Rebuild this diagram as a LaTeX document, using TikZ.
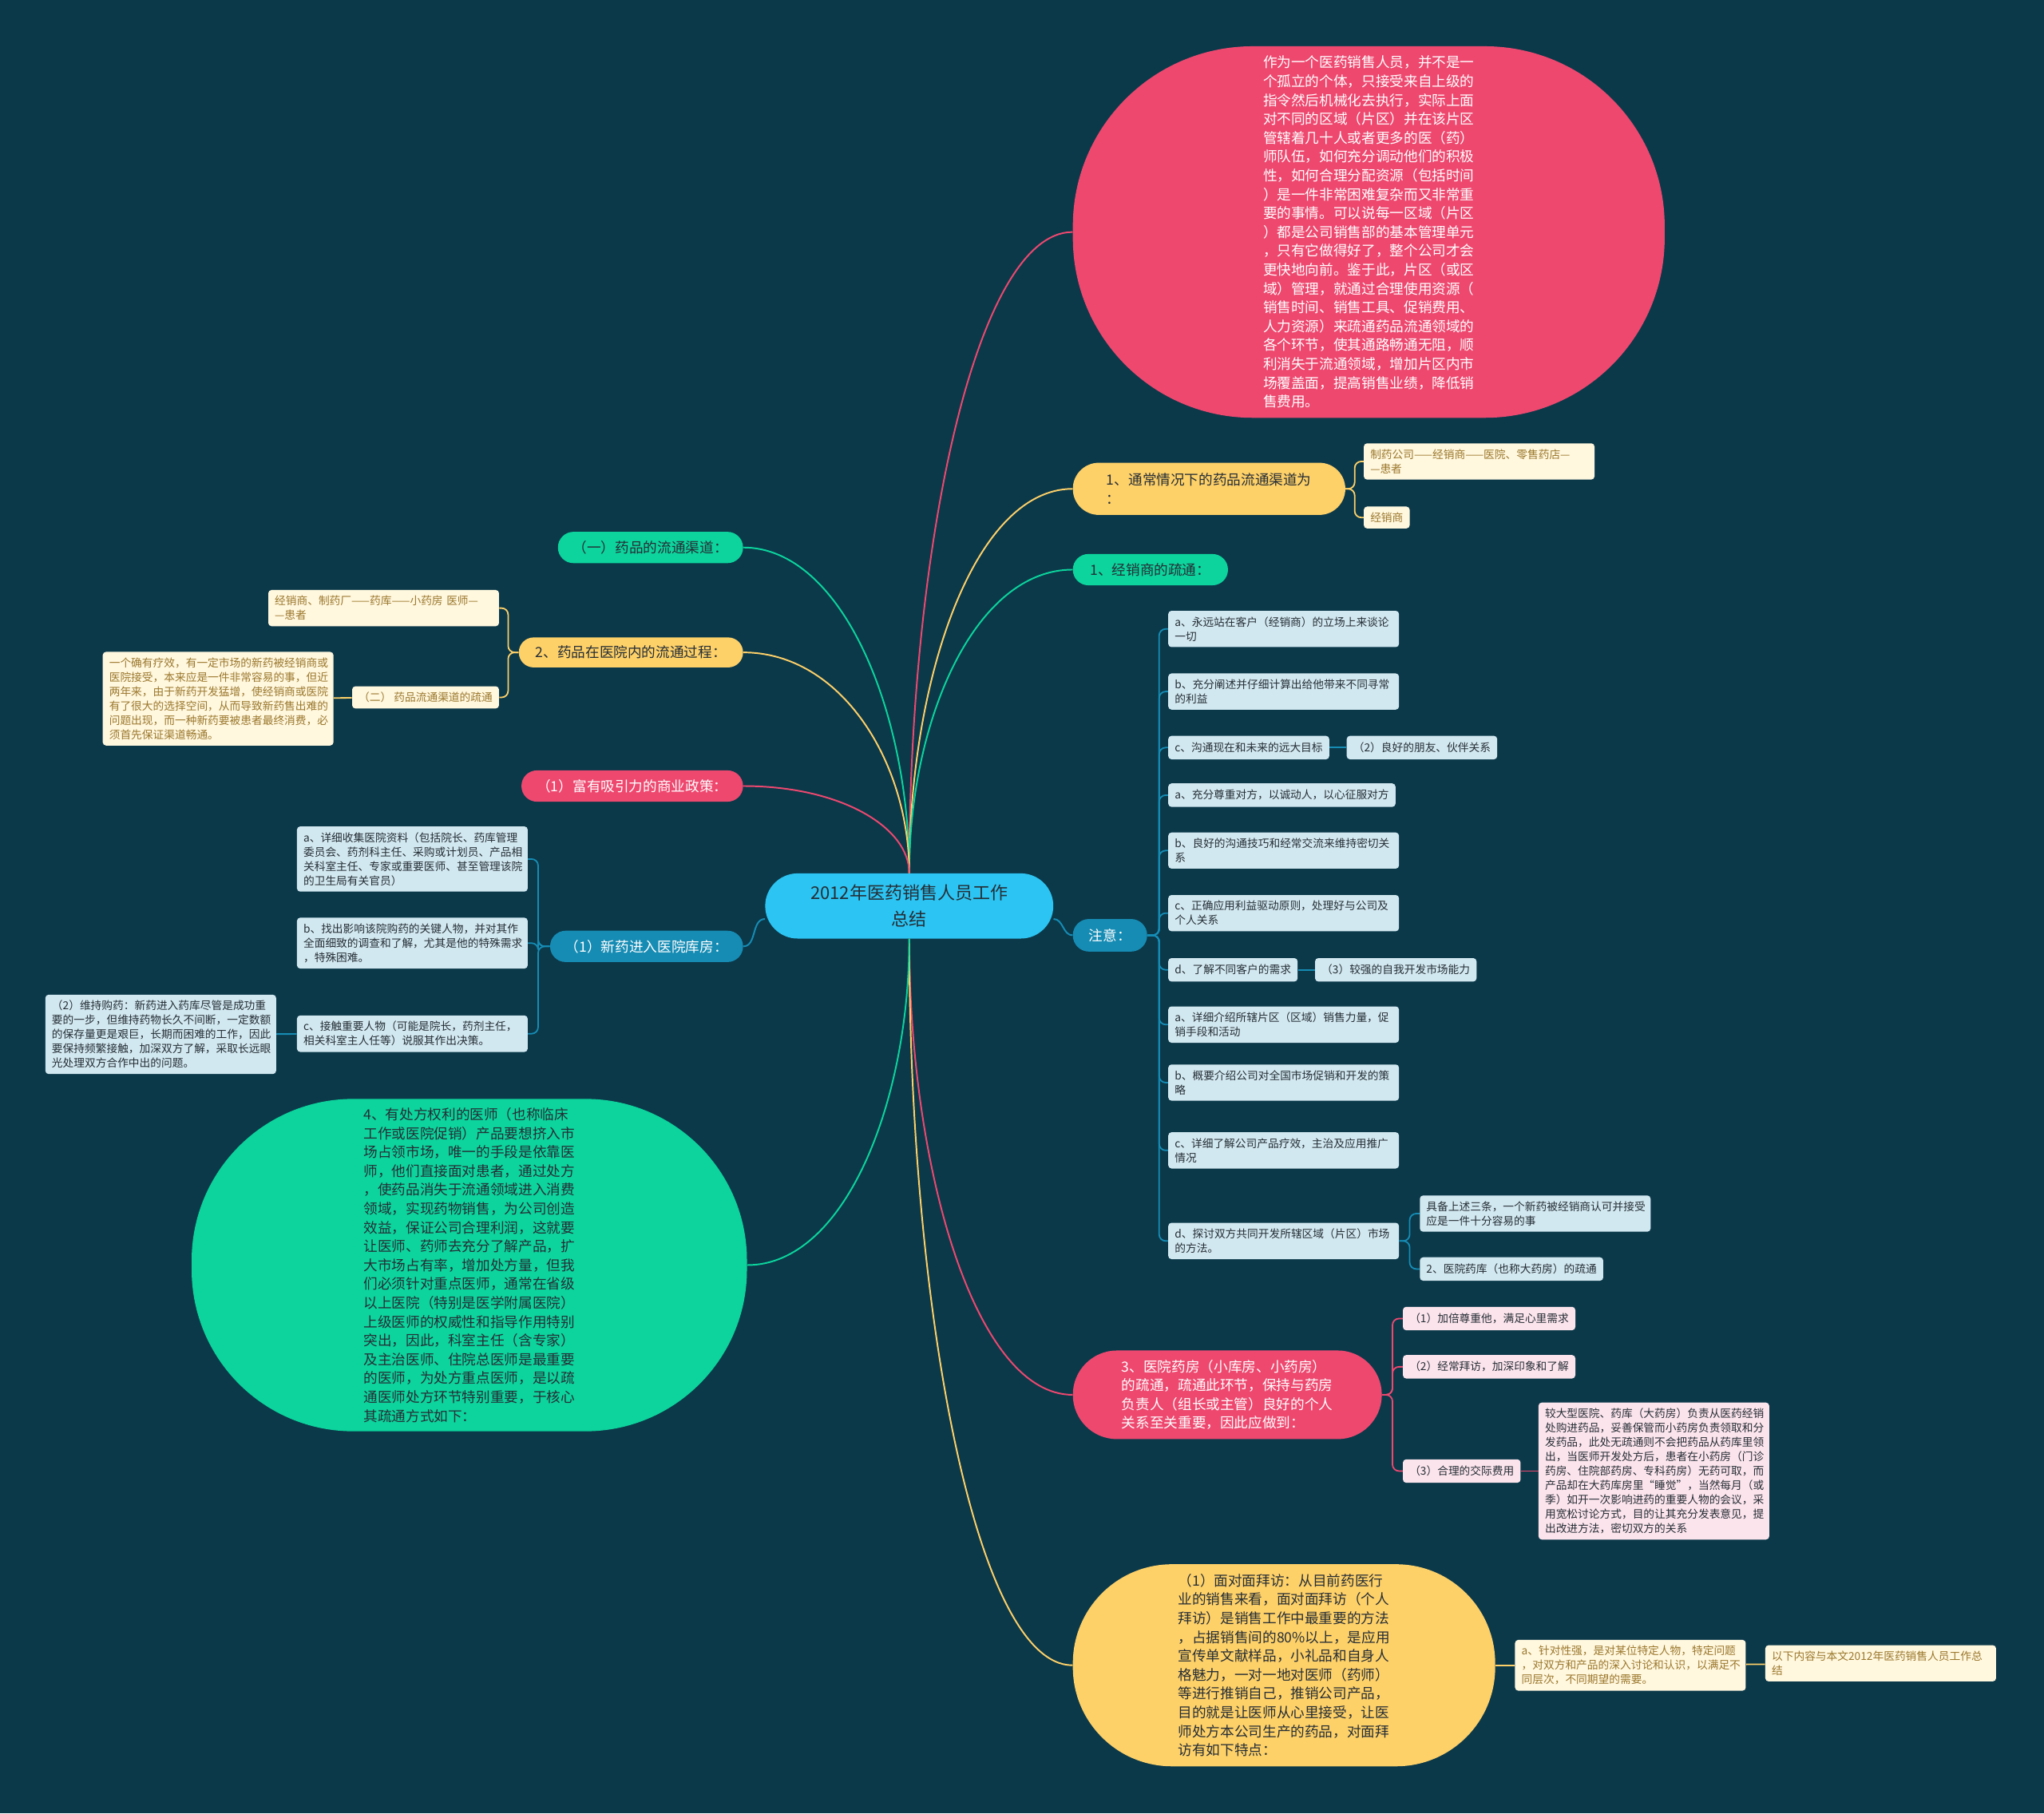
\documentclass[tikz,border=0pt]{standalone}
\usepackage{fontspec}
\setmainfont{Noto Sans CJK SC}
\usetikzlibrary{positioning}
\definecolor{mapBg}{RGB}{11,57,74}
\definecolor{mapCyan}{RGB}{44,196,242}
\definecolor{mapRed}{RGB}{238,72,111}
\definecolor{mapYellow}{RGB}{253,208,104}
\definecolor{mapGreen}{RGB}{12,212,156}
\definecolor{mapBlue}{RGB}{22,140,180}
\definecolor{mapCream}{RGB}{255,247,222}
\definecolor{mapBrown}{RGB}{155,120,45}
\definecolor{mapIce}{RGB}{210,232,240}
\definecolor{mapPink}{RGB}{252,228,236}
\definecolor{mapInk}{RGB}{38,46,54}
\newcommand\rootsize{\fontsize{13.5pt}{20pt}\selectfont}
\newcommand\mainsize{\fontsize{10.8pt}{14.45pt}\selectfont}
\newcommand\leafsize{\fontsize{8.4pt}{11pt}\selectfont}

\begin{document}
\begin{tikzpicture}[
    x=1pt, y=-1pt,
    pill/.style={rounded corners=11.9pt, minimum height=24pt, align=left, font=\mainsize, inner sep=0pt},
    blob/.style={align=left, font=\mainsize, inner sep=0pt},
    leaf/.style={rounded corners=2.5pt, inner xsep=5pt, inner ysep=4.5pt, align=left, font=\leafsize, minimum height=18pt},
    iceleaf/.style={leaf, fill=mapIce, text=mapInk},
    creamleaf/.style={leaf, fill=mapCream, text=mapBrown},
    pinkleaf/.style={leaf, fill=mapPink, text=mapInk},
    wide/.style={text width=167pt},
    link/.style={line width=1.2pt},
    twig/.style={line width=1.1pt, rounded corners=5pt}
]
    \fill[mapBg] (0,0) rectangle (1568,1391);
    \useasboundingbox (0,0) rectangle (1568,1391);

    % root
    \node[pill, fill=mapCyan, text=mapInk, font=\rootsize, align=center, minimum width=221pt, minimum height=50pt, rounded corners=24.9pt] (root) at (697.5,695) {2012年医药销售人员工作\\总结};

    % right side
    \node[blob, fill=mapRed, text=white, minimum width=454pt, minimum height=285pt, rounded corners=138pt] (region) at (1050,178) {作为一个医药销售人员，并不是一\\个孤立的个体，只接受来自上级的\\指令然后机械化去执行，实际上面\\对不同的区域（片区）并在该片区\\管辖着几十人或者更多的医（药）\\师队伍，如何充分调动他们的积极\\性，如何合理分配资源（包括时间\\）是一件非常困难复杂而又非常重\\要的事情。可以说每一区域（片区\\）都是公司销售部的基本管理单元\\，只有它做得好了，整个公司才会\\更快地向前。鉴于此，片区（或区\\域）管理，就通过合理使用资源（\\销售时间、销售工具、促销费用、\\人力资源）来疏通药品流通领域的\\各个环节，使其通路畅通无阻，顺\\利消失于流通领域，增加片区内市\\场覆盖面，提高销售业绩，降低销\\售费用。};
    \node[pill, fill=mapYellow, text=mapInk, minimum width=209pt, minimum height=40pt, rounded corners=19.9pt] (channel) at (927.5,375) {1、通常情况下的药品流通渠道为\\：};
    \node[creamleaf, wide, anchor=west] (chainA) at (1046,354) {制药公司——经销商——医院、零售药店—\\—患者};
    \node[creamleaf, anchor=west, minimum height=16pt] (chainB) at (1046,397) {经销商};
    \node[pill, fill=mapGreen, text=mapInk, minimum width=119pt] (dealer) at (882.5,437) {1、经销商的疏通：};

    \node[pill, fill=mapBlue, text=white, minimum width=57pt, minimum height=25pt, rounded corners=12.4pt] (note) at (851.5,717.5) {注意：};
    \node[iceleaf, wide, anchor=west] (noteA) at (896,482.5) {a、永远站在客户（经销商）的立场上来谈论\\一切};
    \node[iceleaf, wide, anchor=west] (noteB) at (896,530.5) {b、充分阐述并仔细计算出给他带来不同寻常\\的利益};
    \node[iceleaf, anchor=west] (noteC) at (896,573.5) {c、沟通现在和未来的远大目标};
    \node[iceleaf, right=13pt of noteC] (friend) {（2）良好的朋友、伙伴关系};
    \node[iceleaf, anchor=west] (noteD) at (896,610) {a、充分尊重对方，以诚动人，以心征服对方};
    \node[iceleaf, wide, anchor=west] (noteE) at (896,652.5) {b、良好的沟通技巧和经常交流来维持密切关\\系};
    \node[iceleaf, wide, anchor=west] (noteF) at (896,700.5) {c、正确应用利益驱动原则，处理好与公司及\\个人关系};
    \node[iceleaf, anchor=west] (noteG) at (896,744) {d、了解不同客户的需求};
    \node[iceleaf, right=13pt of noteG] (selfdev) {（3）较强的自我开发市场能力};
    \node[iceleaf, wide, anchor=west] (noteH) at (896,786) {a、详细介绍所辖片区（区域）销售力量，促\\销手段和活动};
    \node[iceleaf, wide, anchor=west] (noteI) at (896,830.5) {b、概要介绍公司对全国市场促销和开发的策\\略};
    \node[iceleaf, wide, anchor=west] (noteJ) at (896,882.5) {c、详细了解公司产品疗效，主治及应用推广\\情况};
    \node[iceleaf, wide, anchor=west] (noteK) at (896,952) {d、探讨双方共同开发所辖区域（片区）市场\\的方法。};
    \node[iceleaf, wide, anchor=west] (easy) at (1089,931) {具备上述三条，一个新药被经销商认可并接受\\应是一件十分容易的事};
    \node[iceleaf, anchor=west] (bigstore) at (1089,973.5) {2、医院药库（也称大药房）的疏通};

    \node[pill, fill=mapRed, text=white, minimum width=237pt, minimum height=68pt, rounded corners=33.9pt] (pharmacy) at (941.5,1070) {3、医院药房（小库房、小药房）\\的疏通，疏通此环节，保持与药房\\负责人（组长或主管）良好的个人\\关系至关重要，因此应做到：};
    \node[pinkleaf, anchor=west] (respect) at (1076,1011.5) {（1）加倍尊重他，满足心里需求};
    \node[pinkleaf, anchor=west] (often) at (1076,1048.5) {（2）经常拜访，加深印象和了解};
    \node[pinkleaf, anchor=west] (cost) at (1076,1128.5) {（3）合理的交际费用};
    \node[pinkleaf, wide, anchor=west] (costText) at (1180,1128.5) {较大型医院、药库（大药房）负责从医药经销\\处购进药品，妥善保管而小药房负责领取和分\\发药品，此处无疏通则不会把药品从药库里领\\出，当医师开发处方后，患者在小药房（门诊\\药房、住院部药房、专科药房）无药可取，而\\产品却在大药库房里“睡觉”，当然每月（或\\季）如开一次影响进药的重要人物的会议，采\\用宽松讨论方式，目的让其充分发表意见，提\\出改进方法，密切双方的关系};

    \node[blob, fill=mapYellow, text=mapInk, minimum width=324pt, minimum height=155pt, rounded corners=76pt] (visit) at (985,1277.5) {（1）面对面拜访：从目前药医行\\业的销售来看，面对面拜访（个人\\拜访）是销售工作中最重要的方法\\，占据销售间的80\%以上，是应用\\宣传单文献样品，小礼品和自身人\\格魅力，一对一地对医师（药师）\\等进行推销自己，推销公司产品，\\目的就是让医师从心里接受，让医\\师处方本公司生产的药品，对面拜\\访有如下特点：};
    \node[creamleaf, wide, anchor=west] (aspect) at (1162,1277.5) {a、针对性强，是对某位特定人物，特定问题\\，对双方和产品的深入讨论和认识，以满足不\\同层次，不同期望的需要。};
    \node[creamleaf, wide, anchor=west] (tail) at (1354,1276) {以下内容与本文2012年医药销售人员工作总\\结};

    % left side
    \node[pill, fill=mapGreen, text=mapInk, minimum width=142pt] (flow) at (499,420) {（一）药品的流通渠道：};
    \node[pill, fill=mapYellow, text=mapInk, minimum width=172pt, minimum height=23pt, rounded corners=11.4pt] (inside) at (484,500.5) {2、药品在医院内的流通过程：};
    \node[creamleaf, wide, anchor=east] (route) at (383,466.5) {经销商、制药厂——药库——小药房 医师—\\—患者};
    \node[creamleaf, anchor=east, minimum height=16pt] (clear) at (383,535) {（二） 药品流通渠道的疏通};
    \node[creamleaf, wide, anchor=east] (clearText) at (256,536) {一个确有疗效，有一定市场的新药被经销商或\\医院接受，本来应是一件非常容易的事，但近\\两年来，由于新药开发猛增，使经销商或医院\\有了很大的选择空间，从而导致新药售出难的\\问题出现，而一种新药要被患者最终消费，必\\须首先保证渠道畅通。};
    \node[pill, fill=mapRed, text=white, minimum width=170pt] (policy) at (485,603) {（1）富有吸引力的商业政策：};

    \node[pill, fill=mapBlue, text=white, minimum width=148pt] (stock) at (496,726) {（1）新药进入医院库房：};
    \node[iceleaf, wide, anchor=east] (stockA) at (405,659) {a、详细收集医院资料（包括院长、药库管理\\委员会、药剂科主任、采购或计划员、产品相\\关科室主任、专家或重要医师、甚至管理该院\\的卫生局有关官员）};
    \node[iceleaf, wide, anchor=east] (stockB) at (405,723.5) {b、找出影响该院购药的关键人物，并对其作\\全面细致的调查和了解，尤其是他的特殊需求\\，特殊困难。};
    \node[iceleaf, wide, anchor=east] (stockC) at (405,793) {c、接触重要人物（可能是院长，药剂主任，\\相关科室主人任等）说服其作出决策。};
    \node[iceleaf, wide, anchor=east] (keep) at (212,793.5) {（2）维持购药：新药进入药库尽管是成功重\\要的一步，但维持药物长久不间断，一定数额\\的保存量更是艰巨，长期而困难的工作，因此\\要保持频繁接触，加深双方了解，采取长远眼\\光处理双方合作中出的问题。};

    \node[blob, fill=mapGreen, text=mapInk, minimum width=426pt, minimum height=255pt, rounded corners=124pt] (doctor) at (360,970.5) {4、有处方权利的医师（也称临床\\工作或医院促销）产品要想挤入市\\场占领市场，唯一的手段是依靠医\\师，他们直接面对患者，通过处方\\，使药品消失于流通领域进入消费\\领域，实现药物销售，为公司创造\\效益，保证公司合理利润，这就要\\让医师、药师去充分了解产品，扩\\大市场占有率，增加处方量，但我\\们必须针对重点医师，通常在省级\\以上医院（特别是医学附属医院）\\上级医师的权威性和指导作用特别\\突出，因此，科室主任（含专家）\\及主治医师、住院总医师是最重要\\的医师，为处方重点医师，是以疏\\通医师处方环节特别重要，于核心\\其疏通方式如下：};

    % branches from the root
    \draw[link, mapRed] (root.north) to[out=90, in=180, out distance=246pt, in distance=75pt] (region.west);
    \draw[link, mapYellow] (root.north) to[out=90, in=180, out distance=150pt, in distance=75pt] (channel.west);
    \draw[link, mapGreen] (root.north) to[out=90, in=180, out distance=117pt, in distance=75pt] (dealer.west);
    \draw[link, mapBlue] ([yshift=-10pt]root.east) to[out=0, in=180] (note.west);
    \draw[link, mapRed] (root.south) to[out=-90, in=180, out distance=175pt, in distance=75pt] (pharmacy.west);
    \draw[link, mapYellow] (root.south) to[out=-90, in=180, out distance=280pt, in distance=75pt] (visit.west);
    \draw[link, mapGreen] (root.north) to[out=90, in=0, out distance=125pt, in distance=75pt] (flow.east);
    \draw[link, mapYellow] (root.north) to[out=90, in=0, out distance=85pt, in distance=75pt] (inside.east);
    \draw[link, mapRed] (root.north) to[out=90, in=0, out distance=35pt, in distance=75pt] (policy.east);
    \draw[link, mapBlue] ([yshift=-10pt]root.west) to[out=180, in=0] (stock.east);
    \draw[link, mapGreen] (root.south) to[out=-90, in=0, out distance=125pt, in distance=75pt] (doctor.east);

    % twigs
    \draw[twig, mapYellow] (channel.east) -- ++(7,0) |- (chainA.west);
    \draw[twig, mapYellow] (channel.east) -- ++(7,0) |- (chainB.west);
    \draw[twig, mapBlue] (note.east) -- ++(9,0) |- (noteA.west);
    \draw[twig, mapBlue] (note.east) -- ++(9,0) |- (noteB.west);
    \draw[twig, mapBlue] (note.east) -- ++(9,0) |- (noteC.west);
    \draw[twig, mapBlue] (note.east) -- ++(9,0) |- (noteD.west);
    \draw[twig, mapBlue] (note.east) -- ++(9,0) |- (noteE.west);
    \draw[twig, mapBlue] (note.east) -- ++(9,0) |- (noteF.west);
    \draw[twig, mapBlue] (note.east) -- ++(9,0) |- (noteG.west);
    \draw[twig, mapBlue] (note.east) -- ++(9,0) |- (noteH.west);
    \draw[twig, mapBlue] (note.east) -- ++(9,0) |- (noteI.west);
    \draw[twig, mapBlue] (note.east) -- ++(9,0) |- (noteJ.west);
    \draw[twig, mapBlue] (note.east) -- ++(9,0) |- (noteK.west);
    \draw[twig, mapBlue] (noteC) -- (friend);
    \draw[twig, mapBlue] (noteG) -- (selfdev);
    \draw[twig, mapBlue] (noteK.east) -- ++(8,0) |- (easy.west);
    \draw[twig, mapBlue] (noteK.east) -- ++(8,0) |- (bigstore.west);
    \draw[twig, mapRed] (pharmacy.east) -- ++(8,0) |- (respect.west);
    \draw[twig, mapRed] (pharmacy.east) -- ++(8,0) |- (often.west);
    \draw[twig, mapRed] (pharmacy.east) -- ++(8,0) |- (cost.west);
    \draw[twig, mapRed] (cost) -- (costText);
    \draw[twig, mapYellow] (visit) -- (aspect);
    \draw[twig, mapYellow] (aspect) -- (tail);
    \draw[twig, mapYellow] (inside.west) -- ++(-8,0) |- (route.east);
    \draw[twig, mapYellow] (inside.west) -- ++(-8,0) |- (clear.east);
    \draw[twig, mapYellow] (clear) -- (clearText);
    \draw[twig, mapBlue] (stock.west) -- ++(-9,0) |- (stockA.east);
    \draw[twig, mapBlue] (stock.west) -- ++(-9,0) |- (stockB.east);
    \draw[twig, mapBlue] (stock.west) -- ++(-9,0) |- (stockC.east);
    \draw[twig, mapBlue] (stockC) -- (keep);
\end{tikzpicture}
\end{document}
